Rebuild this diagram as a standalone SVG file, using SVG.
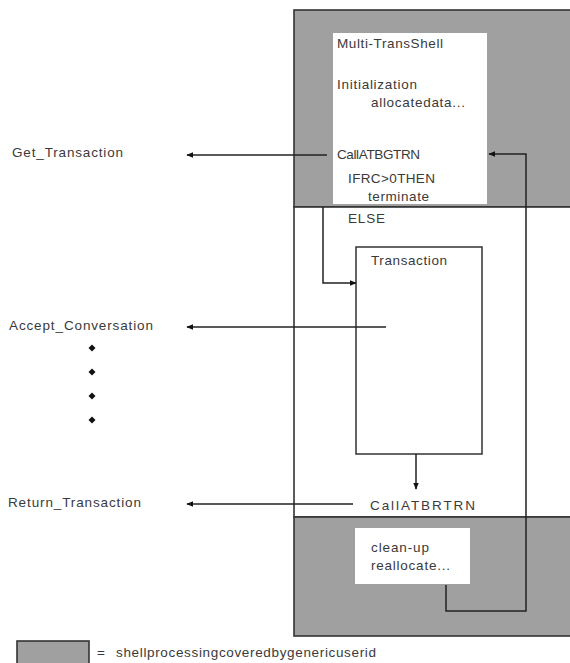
<svg xmlns="http://www.w3.org/2000/svg" width="570" height="663" viewBox="0 0 570 663">
<style>
text{font-family:"Liberation Sans",Arial,sans-serif;font-size:13.5px;fill:#3a3a3a}
.g{fill:#a0a0a0;stroke:#333;stroke-width:1.6}
.w{fill:#fff;stroke:none}
.b{fill:#fff;stroke:#333;stroke-width:1.5}
.c{fill:none;stroke:#222;stroke-width:1.5}
</style>
<defs>
<marker id="ah" viewBox="0 0 10 10" refX="9" refY="5" markerWidth="7" markerHeight="7" orient="auto" markerUnits="userSpaceOnUse">
<path d="M0,1 L10,5 L0,9 Z" fill="#111"/>
</marker>
</defs>
<g id="shell">
<rect x="294" y="10" width="280" height="197" class="g"/>
<rect x="294" y="207" width="280" height="310" fill="#fff" stroke="#333" stroke-width="1.6"/>
<rect x="294" y="517" width="280" height="119" class="g"/>
</g>
<g id="init">
<rect x="333" y="33" width="154" height="171" class="w"/>
<text x="337" y="47.5" textLength="106">Multi-TransShell</text>
<text x="337" y="89" textLength="80">Initialization</text>
<text x="371" y="107" textLength="94">allocatedata...</text>
<text x="337" y="159" textLength="83">CallATBGTRN</text>
<text x="348" y="183" textLength="87">IFRC&gt;0THEN</text>
<text x="368" y="200.5" textLength="61">terminate</text>
</g>
<g id="else"><text x="348" y="223" textLength="37">ELSE</text></g>
<g id="transaction">
<rect x="356" y="247" width="126" height="207" class="b"/>
<text x="371" y="265" textLength="76">Transaction</text>
</g>
<g id="callrtrn"><text x="370" y="510" font-size="16.5" textLength="105">CallATBRTRN</text></g>
<g id="cleanup">
<rect x="355" y="528" width="115" height="56" class="w"/>
<text x="371" y="552" textLength="58">clean-up</text>
<text x="371" y="570" textLength="79">reallocate...</text>
</g>
<g id="labels">
<text x="12" y="157" textLength="111">Get_Transaction</text>
<text x="9" y="330" textLength="144">Accept_Conversation</text>
<text x="8" y="507" textLength="133">Return_Transaction</text>
</g>
<g id="dots" fill="#111">
<path d="M92,344.5 L95.5,348 L92,351.5 L88.5,348 Z"/>
<path d="M92,368.5 L95.5,372 L92,375.5 L88.5,372 Z"/>
<path d="M92,392.5 L95.5,396 L92,399.5 L88.5,396 Z"/>
<path d="M92,416.5 L95.5,420 L92,423.5 L88.5,420 Z"/>
</g>
<g id="connectors">
<line x1="327" y1="155" x2="187" y2="155" class="c" marker-end="url(#ah)"/>
<line x1="386" y1="327" x2="187" y2="327" class="c" marker-end="url(#ah)"/>
<line x1="353" y1="504" x2="187" y2="504" class="c" marker-end="url(#ah)"/>
<polyline points="323,207 323,283 356,283" class="c" marker-end="url(#ah)"/>
<line x1="416" y1="454" x2="416" y2="489" class="c" marker-end="url(#ah)"/>
<polyline points="446,585 446,611 526,611 526,154 489,154" class="c" marker-end="url(#ah)"/>
</g>
<g id="legend">
<rect x="17" y="641" width="72" height="30" class="g"/>
<text x="97" y="657" font-size="10">=</text>
<text x="116" y="657" textLength="260">shellprocessingcoveredbygenericuserid</text>
</g>
</svg>
